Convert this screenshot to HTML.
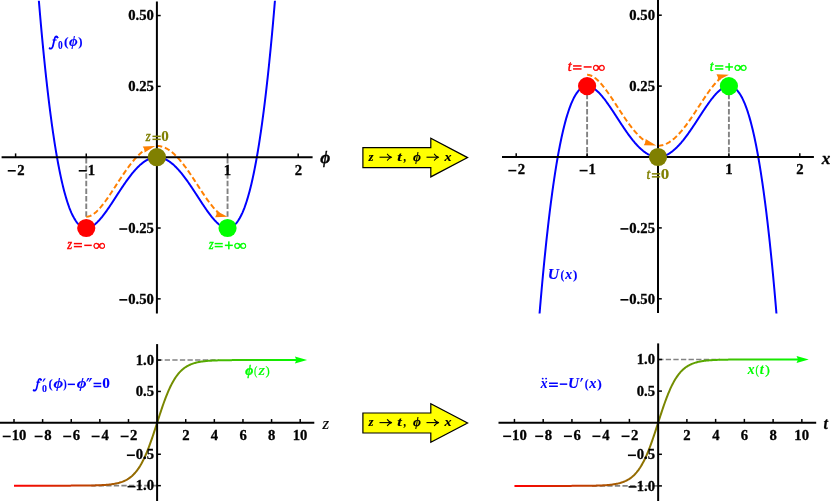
<!DOCTYPE html>
<html><head><meta charset="utf-8"><title>plot</title>
<style>html,body{margin:0;padding:0;background:#fff;}body{width:831px;height:503px;overflow:hidden;}svg{display:block;}text{font-family:"Liberation Serif",serif;font-weight:bold;}.tk{font-size:14px;fill:#000;stroke:#000;stroke-width:0.3px;}</style></head><body>
<svg width="831" height="503" viewBox="0 0 831 503">
<rect width="831" height="503" fill="#fff"/>
<g opacity="0.999">
<defs>
<linearGradient id="g1" gradientUnits="userSpaceOnUse" x1="14.00" y1="0" x2="300.20" y2="0"><stop offset="0" stop-color="#ff0000"/><stop offset="0.5" stop-color="#808000"/><stop offset="1" stop-color="#00ff00"/></linearGradient>
<linearGradient id="g2" gradientUnits="userSpaceOnUse" x1="514.45" y1="0" x2="801.85" y2="0"><stop offset="0" stop-color="#ff0000"/><stop offset="0.5" stop-color="#808000"/><stop offset="1" stop-color="#00ff00"/></linearGradient>
<clipPath id="cTL"><rect x="0" y="0.8" width="420" height="320"/></clipPath>
<clipPath id="cTR"><rect x="420" y="0" width="420" height="313.5"/></clipPath>
</defs>
<line x1="86.25" y1="216.72" x2="86.25" y2="157.20" stroke="#828282" stroke-width="1.9" stroke-dasharray="5.5,2.1"/>
<line x1="227.55" y1="216.72" x2="227.55" y2="157.20" stroke="#828282" stroke-width="1.9" stroke-dasharray="5.5,2.1"/>
<path d="M86.25,216.72 L86.94,216.70 L87.63,216.62 L88.32,216.49 L89.01,216.31 L89.69,216.08 L90.38,215.81 L91.07,215.49 L91.76,215.13 L92.45,214.73 L93.14,214.29 L93.83,213.81 L94.52,213.29 L95.20,212.73 L95.89,212.14 L96.58,211.52 L97.27,210.86 L97.96,210.18 L98.65,209.46 L99.34,208.72 L100.03,207.95 L100.72,207.16 L101.40,206.34 L102.09,205.49 L102.78,204.63 L103.47,203.75 L104.16,202.84 L104.85,201.92 L105.54,200.98 L106.23,200.03 L106.92,199.06 L107.60,198.08 L108.29,197.08 L108.98,196.07 L109.67,195.06 L110.36,194.03 L111.05,193.00 L111.74,191.96 L112.43,190.91 L113.11,189.86 L113.80,188.80 L114.49,187.74 L115.18,186.68 L115.87,185.62 L116.56,184.55 L117.25,183.49 L117.94,182.43 L118.63,181.37 L119.31,180.32 L120.00,179.27 L120.69,178.22 L121.38,177.18 L122.07,176.14 L122.76,175.12 L123.45,174.10 L124.14,173.09 L124.82,172.09 L125.51,171.10 L126.20,170.12 L126.89,169.15 L127.58,168.19 L128.27,167.25 L128.96,166.32 L129.65,165.41 L130.34,164.51 L131.02,163.63 L131.71,162.76 L132.40,161.91 L133.09,161.07 L133.78,160.26 L134.47,159.46 L135.16,158.68 L135.85,157.92 L136.54,157.18 L137.22,156.46 L137.91,155.76 L138.60,155.08 L139.29,154.43 L139.98,153.79 L140.67,153.18 L141.36,152.59 L142.05,152.02 L142.73,151.48 L143.42,150.96 L144.11,150.46 L144.80,149.99 L145.49,149.55 L146.18,149.12" fill="none" stroke="#ff8000" stroke-width="2" stroke-dasharray="5.4,2.8"/>
<polygon points="155.13,145.99 142.71,146.39 144.35,149.29 144.61,152.60" fill="#ff8000"/>
<path d="M156.90,145.90 L157.61,145.91 L158.31,145.96 L159.02,146.03 L159.73,146.13 L160.43,146.25 L161.14,146.41 L161.85,146.59 L162.55,146.80 L163.26,147.04 L163.97,147.31 L164.67,147.60 L165.38,147.93 L166.08,148.27 L166.79,148.65 L167.50,149.05 L168.20,149.48 L168.91,149.93 L169.62,150.42 L170.32,150.92 L171.03,151.45 L171.74,152.01 L172.44,152.59 L173.15,153.20 L173.86,153.82 L174.56,154.48 L175.27,155.15 L175.98,155.85 L176.68,156.57 L177.39,157.31 L178.09,158.07 L178.80,158.86 L179.51,159.66 L180.21,160.49 L180.92,161.33 L181.63,162.19 L182.33,163.07 L183.04,163.96 L183.75,164.88 L184.45,165.81 L185.16,166.75 L185.87,167.71 L186.57,168.68 L187.28,169.67 L187.99,170.67 L188.69,171.68 L189.40,172.70 L190.11,173.73 L190.81,174.78 L191.52,175.83 L192.23,176.89 L192.93,177.95 L193.64,179.02 L194.34,180.10 L195.05,181.18 L195.76,182.27 L196.46,183.36 L197.17,184.45 L197.88,185.54 L198.58,186.63 L199.29,187.72 L200.00,188.80 L200.70,189.88 L201.41,190.96 L202.12,192.04 L202.82,193.10 L203.53,194.16 L204.24,195.21 L204.94,196.26 L205.65,197.29 L206.36,198.30 L207.06,199.31 L207.77,200.30 L208.47,201.27 L209.18,202.23 L209.89,203.17 L210.59,204.09 L211.30,204.99 L212.01,205.86 L212.71,206.72 L213.42,207.55 L214.13,208.35 L214.83,209.12 L215.54,209.87 L216.25,210.59 L216.95,211.27 L217.66,211.92 L218.37,212.54 L219.07,213.12" fill="none" stroke="#ff8000" stroke-width="2" stroke-dasharray="5.4,2.8"/>
<polygon points="227.55,216.72 216.54,210.95 216.54,214.28 215.13,217.30" fill="#ff8000"/>
<path d="M34.25,-59.17 L34.82,-51.32 L35.38,-43.61 L35.95,-36.05 L36.51,-28.63 L37.08,-21.35 L37.64,-14.20 L38.21,-7.19 L38.77,-0.32 L39.34,6.41 L39.90,13.02 L40.47,19.49 L41.03,25.84 L41.60,32.05 L42.16,38.14 L42.73,44.11 L43.29,49.95 L43.86,55.67 L44.43,61.26 L44.99,66.74 L45.56,72.10 L46.12,77.34 L46.69,82.46 L47.25,87.48 L47.82,92.38 L48.38,97.16 L48.95,101.84 L49.51,106.41 L50.08,110.87 L50.64,115.22 L51.21,119.47 L51.77,123.62 L52.34,127.66 L52.90,131.60 L53.47,135.45 L54.03,139.19 L54.60,142.84 L55.16,146.39 L55.73,149.85 L56.29,153.21 L56.86,156.48 L57.42,159.66 L57.99,162.75 L58.56,165.75 L59.12,168.67 L59.69,171.50 L60.25,174.24 L60.82,176.90 L61.38,179.48 L61.95,181.98 L62.51,184.39 L63.08,186.73 L63.64,188.99 L64.21,191.17 L64.77,193.28 L65.34,195.31 L65.90,197.27 L66.47,199.16 L67.03,200.98 L67.60,202.72 L68.16,204.40 L68.73,206.01 L69.29,207.56 L69.86,209.03 L70.42,210.45 L70.99,211.80 L71.55,213.09 L72.12,214.31 L72.69,215.48 L73.25,216.59 L73.82,217.64 L74.38,218.63 L74.95,219.57 L75.51,220.45 L76.08,221.27 L76.64,222.05 L77.21,222.77 L77.77,223.44 L78.34,224.06 L78.90,224.63 L79.47,225.16 L80.03,225.63 L80.60,226.06 L81.16,226.45 L81.73,226.79 L82.29,227.09 L82.86,227.34 L83.42,227.55 L83.99,227.73 L84.55,227.86 L85.12,227.95 L85.68,228.01 L86.25,228.02 L86.82,228.01 L87.38,227.95 L87.95,227.87 L88.51,227.74 L89.08,227.59 L89.64,227.40 L90.21,227.19 L90.77,226.94 L91.34,226.66 L91.90,226.35 L92.47,226.02 L93.03,225.66 L93.60,225.27 L94.16,224.86 L94.73,224.42 L95.29,223.96 L95.86,223.47 L96.42,222.97 L96.99,222.44 L97.55,221.89 L98.12,221.32 L98.68,220.73 L99.25,220.12 L99.81,219.49 L100.38,218.85 L100.95,218.19 L101.51,217.51 L102.08,216.82 L102.64,216.11 L103.21,215.39 L103.77,214.65 L104.34,213.91 L104.90,213.15 L105.47,212.38 L106.03,211.60 L106.60,210.81 L107.16,210.01 L107.73,209.20 L108.29,208.38 L108.86,207.56 L109.42,206.72 L109.99,205.89 L110.55,205.04 L111.12,204.19 L111.68,203.34 L112.25,202.48 L112.81,201.62 L113.38,200.75 L113.94,199.88 L114.51,199.02 L115.08,198.14 L115.64,197.27 L116.21,196.40 L116.77,195.53 L117.34,194.66 L117.90,193.79 L118.47,192.92 L119.03,192.05 L119.60,191.19 L120.16,190.32 L120.73,189.47 L121.29,188.61 L121.86,187.76 L122.42,186.92 L122.99,186.08 L123.55,185.24 L124.12,184.41 L124.68,183.59 L125.25,182.78 L125.81,181.97 L126.38,181.17 L126.94,180.38 L127.51,179.59 L128.07,178.82 L128.64,178.05 L129.21,177.29 L129.77,176.55 L130.34,175.81 L130.90,175.08 L131.47,174.37 L132.03,173.66 L132.60,172.97 L133.16,172.29 L133.73,171.62 L134.29,170.96 L134.86,170.32 L135.42,169.69 L135.99,169.07 L136.55,168.46 L137.12,167.87 L137.68,167.29 L138.25,166.73 L138.81,166.18 L139.38,165.64 L139.94,165.12 L140.51,164.62 L141.07,164.13 L141.64,163.65 L142.20,163.20 L142.77,162.75 L143.34,162.33 L143.90,161.91 L144.47,161.52 L145.03,161.14 L145.60,160.78 L146.16,160.43 L146.73,160.11 L147.29,159.80 L147.86,159.50 L148.42,159.23 L148.99,158.97 L149.55,158.72 L150.12,158.50 L150.68,158.29 L151.25,158.10 L151.81,157.93 L152.38,157.78 L152.94,157.64 L153.51,157.53 L154.07,157.43 L154.64,157.34 L155.20,157.28 L155.77,157.24 L156.33,157.21 L156.90,157.20 L157.47,157.21 L158.03,157.24 L158.60,157.28 L159.16,157.34 L159.73,157.43 L160.29,157.53 L160.86,157.64 L161.42,157.78 L161.99,157.93 L162.55,158.10 L163.12,158.29 L163.68,158.50 L164.25,158.72 L164.81,158.97 L165.38,159.23 L165.94,159.50 L166.51,159.80 L167.07,160.11 L167.64,160.43 L168.20,160.78 L168.77,161.14 L169.33,161.52 L169.90,161.91 L170.46,162.33 L171.03,162.75 L171.60,163.20 L172.16,163.65 L172.73,164.13 L173.29,164.62 L173.86,165.12 L174.42,165.64 L174.99,166.18 L175.55,166.73 L176.12,167.29 L176.68,167.87 L177.25,168.46 L177.81,169.07 L178.38,169.69 L178.94,170.32 L179.51,170.96 L180.07,171.62 L180.64,172.29 L181.20,172.97 L181.77,173.66 L182.33,174.37 L182.90,175.08 L183.46,175.81 L184.03,176.55 L184.59,177.29 L185.16,178.05 L185.73,178.82 L186.29,179.59 L186.86,180.38 L187.42,181.17 L187.99,181.97 L188.55,182.78 L189.12,183.59 L189.68,184.41 L190.25,185.24 L190.81,186.08 L191.38,186.92 L191.94,187.76 L192.51,188.61 L193.07,189.47 L193.64,190.32 L194.20,191.19 L194.77,192.05 L195.33,192.92 L195.90,193.79 L196.46,194.66 L197.03,195.53 L197.59,196.40 L198.16,197.27 L198.72,198.14 L199.29,199.02 L199.86,199.88 L200.42,200.75 L200.99,201.62 L201.55,202.48 L202.12,203.34 L202.68,204.19 L203.25,205.04 L203.81,205.89 L204.38,206.72 L204.94,207.56 L205.51,208.38 L206.07,209.20 L206.64,210.01 L207.20,210.81 L207.77,211.60 L208.33,212.38 L208.90,213.15 L209.46,213.91 L210.03,214.65 L210.59,215.39 L211.16,216.11 L211.72,216.82 L212.29,217.51 L212.85,218.19 L213.42,218.85 L213.99,219.49 L214.55,220.12 L215.12,220.73 L215.68,221.32 L216.25,221.89 L216.81,222.44 L217.38,222.97 L217.94,223.47 L218.51,223.96 L219.07,224.42 L219.64,224.86 L220.20,225.27 L220.77,225.66 L221.33,226.02 L221.90,226.35 L222.46,226.66 L223.03,226.94 L223.59,227.19 L224.16,227.40 L224.72,227.59 L225.29,227.74 L225.85,227.87 L226.42,227.95 L226.98,228.01 L227.55,228.02 L228.12,228.01 L228.68,227.95 L229.25,227.86 L229.81,227.73 L230.38,227.55 L230.94,227.34 L231.51,227.09 L232.07,226.79 L232.64,226.45 L233.20,226.06 L233.77,225.63 L234.33,225.16 L234.90,224.63 L235.46,224.06 L236.03,223.44 L236.59,222.77 L237.16,222.05 L237.72,221.27 L238.29,220.45 L238.85,219.57 L239.42,218.63 L239.98,217.64 L240.55,216.59 L241.11,215.48 L241.68,214.31 L242.25,213.09 L242.81,211.80 L243.38,210.45 L243.94,209.03 L244.51,207.56 L245.07,206.01 L245.64,204.40 L246.20,202.72 L246.77,200.98 L247.33,199.16 L247.90,197.27 L248.46,195.31 L249.03,193.28 L249.59,191.17 L250.16,188.99 L250.72,186.73 L251.29,184.39 L251.85,181.98 L252.42,179.48 L252.98,176.90 L253.55,174.24 L254.11,171.50 L254.68,168.67 L255.24,165.75 L255.81,162.75 L256.38,159.66 L256.94,156.48 L257.51,153.21 L258.07,149.85 L258.64,146.39 L259.20,142.84 L259.77,139.19 L260.33,135.45 L260.90,131.60 L261.46,127.66 L262.03,123.62 L262.59,119.47 L263.16,115.22 L263.72,110.87 L264.29,106.41 L264.85,101.84 L265.42,97.16 L265.98,92.38 L266.55,87.48 L267.11,82.46 L267.68,77.34 L268.24,72.10 L268.81,66.74 L269.37,61.26 L269.94,55.67 L270.51,49.95 L271.07,44.11 L271.64,38.14 L272.20,32.05 L272.77,25.84 L273.33,19.49 L273.90,13.02 L274.46,6.41 L275.03,-0.32 L275.59,-7.19 L276.16,-14.20 L276.72,-21.35 L277.29,-28.63 L277.85,-36.05 L278.42,-43.61 L278.98,-51.32 L279.55,-59.17" fill="none" stroke="#0000ff" stroke-width="2" stroke-linejoin="round" clip-path="url(#cTL)"/>
<line x1="1.6" y1="157.2" x2="312.6" y2="157.2" stroke="#000" stroke-width="2"/>
<line x1="156.9" y1="1.4" x2="156.9" y2="313.5" stroke="#000" stroke-width="2"/>
<line x1="15.60" y1="157.2" x2="15.60" y2="153.39999999999998" stroke="#000" stroke-width="1.5"/>
<rect x="7.75" y="170.00" width="8.0" height="1.6" fill="#000"/>
<text class="tk" transform="translate(17.23,174.60) scale(1.05,1)">2</text>
<line x1="86.25" y1="157.2" x2="86.25" y2="153.39999999999998" stroke="#000" stroke-width="1.5"/>
<rect x="78.74" y="170.00" width="8.0" height="1.6" fill="#000"/>
<text class="tk" transform="translate(87.67,174.60) scale(1.05,1)">1</text>
<line x1="227.55" y1="157.2" x2="227.55" y2="153.39999999999998" stroke="#000" stroke-width="1.5"/>
<text class="tk" transform="translate(223.82,174.60) scale(1.05,1)">1</text>
<line x1="298.20" y1="157.2" x2="298.20" y2="153.39999999999998" stroke="#000" stroke-width="1.5"/>
<text class="tk" transform="translate(294.68,174.60) scale(1.05,1)">2</text>
<line x1="156.9" y1="298.85" x2="160.70000000000002" y2="298.85" stroke="#000" stroke-width="1.5"/>
<text class="tk" transform="translate(128.18,303.65) scale(1.05,1)">0.50</text>
<rect x="119.33" y="299.05" width="8.0" height="1.6" fill="#000"/>
<line x1="156.9" y1="228.02" x2="160.70000000000002" y2="228.02" stroke="#000" stroke-width="1.5"/>
<text class="tk" transform="translate(128.18,232.82) scale(1.05,1)">0.25</text>
<rect x="119.33" y="228.22" width="8.0" height="1.6" fill="#000"/>
<line x1="156.9" y1="86.37" x2="160.70000000000002" y2="86.37" stroke="#000" stroke-width="1.5"/>
<text class="tk" transform="translate(128.18,91.17) scale(1.05,1)">0.25</text>
<line x1="156.9" y1="15.55" x2="160.70000000000002" y2="15.55" stroke="#000" stroke-width="1.5"/>
<text class="tk" transform="translate(128.18,20.35) scale(1.05,1)">0.50</text>
<circle cx="86.25" cy="228.02" r="9.1" fill="#ff0000"/>
<circle cx="156.90" cy="157.20" r="9.1" fill="#808000"/>
<circle cx="227.55" cy="228.02" r="9.1" fill="#00ff00"/>
<line x1="587.10" y1="86.10" x2="587.10" y2="157.00" stroke="#828282" stroke-width="1.9" stroke-dasharray="5.5,2.1"/>
<line x1="728.90" y1="86.10" x2="728.90" y2="157.00" stroke="#828282" stroke-width="1.9" stroke-dasharray="5.5,2.1"/>
<path d="M587.10,74.80 L587.79,74.83 L588.48,74.91 L589.17,75.04 L589.87,75.21 L590.56,75.44 L591.25,75.71 L591.94,76.03 L592.63,76.39 L593.32,76.80 L594.01,77.24 L594.70,77.72 L595.40,78.24 L596.09,78.80 L596.78,79.39 L597.47,80.01 L598.16,80.67 L598.85,81.35 L599.54,82.07 L600.23,82.81 L600.93,83.58 L601.62,84.38 L602.31,85.20 L603.00,86.04 L603.69,86.91 L604.38,87.79 L605.07,88.70 L605.76,89.62 L606.46,90.56 L607.15,91.52 L607.84,92.49 L608.53,93.47 L609.22,94.47 L609.91,95.47 L610.60,96.49 L611.29,97.52 L611.99,98.55 L612.68,99.59 L613.37,100.64 L614.06,101.70 L614.75,102.75 L615.44,103.81 L616.13,104.88 L616.82,105.94 L617.52,107.00 L618.21,108.07 L618.90,109.13 L619.59,110.19 L620.28,111.25 L620.97,112.30 L621.66,113.35 L622.36,114.39 L623.05,115.42 L623.74,116.45 L624.43,117.47 L625.12,118.48 L625.81,119.48 L626.50,120.48 L627.19,121.46 L627.89,122.43 L628.58,123.38 L629.27,124.32 L629.96,125.25 L630.65,126.17 L631.34,127.07 L632.03,127.95 L632.72,128.82 L633.42,129.68 L634.11,130.51 L634.80,131.33 L635.49,132.13 L636.18,132.91 L636.87,133.67 L637.56,134.41 L638.25,135.13 L638.95,135.83 L639.64,136.51 L640.33,137.16 L641.02,137.80 L641.71,138.41 L642.40,139.00 L643.09,139.57 L643.78,140.11 L644.48,140.63 L645.17,141.13 L645.86,141.60 L646.55,142.05 L647.24,142.47" fill="none" stroke="#ff8000" stroke-width="2" stroke-dasharray="5.4,2.8"/>
<polygon points="656.23,145.61 645.70,138.99 645.44,142.31 643.80,145.21" fill="#ff8000"/>
<path d="M658.00,145.70 L658.71,145.69 L659.42,145.64 L660.13,145.57 L660.84,145.47 L661.54,145.35 L662.25,145.19 L662.96,145.01 L663.67,144.80 L664.38,144.56 L665.09,144.29 L665.80,143.99 L666.51,143.67 L667.22,143.32 L667.93,142.95 L668.63,142.55 L669.34,142.12 L670.05,141.66 L670.76,141.18 L671.47,140.67 L672.18,140.14 L672.89,139.58 L673.60,139.00 L674.31,138.40 L675.02,137.77 L675.73,137.11 L676.43,136.44 L677.14,135.74 L677.85,135.02 L678.56,134.28 L679.27,133.51 L679.98,132.73 L680.69,131.92 L681.40,131.10 L682.11,130.26 L682.82,129.39 L683.52,128.51 L684.23,127.62 L684.94,126.70 L685.65,125.77 L686.36,124.83 L687.07,123.87 L687.78,122.89 L688.49,121.91 L689.20,120.90 L689.90,119.89 L690.61,118.87 L691.32,117.84 L692.03,116.79 L692.74,115.74 L693.45,114.68 L694.16,113.61 L694.87,112.54 L695.58,111.46 L696.29,110.38 L697.00,109.29 L697.70,108.20 L698.41,107.11 L699.12,106.02 L699.83,104.93 L700.54,103.84 L701.25,102.75 L701.96,101.67 L702.67,100.59 L703.38,99.51 L704.09,98.45 L704.79,97.39 L705.50,96.33 L706.21,95.29 L706.92,94.26 L707.63,93.24 L708.34,92.24 L709.05,91.24 L709.76,90.27 L710.47,89.31 L711.17,88.37 L711.88,87.45 L712.59,86.55 L713.30,85.67 L714.01,84.82 L714.72,83.99 L715.43,83.19 L716.14,82.41 L716.85,81.66 L717.56,80.94 L718.26,80.26 L718.97,79.61 L719.68,78.99 L720.39,78.41" fill="none" stroke="#ff8000" stroke-width="2" stroke-dasharray="5.4,2.8"/>
<polygon points="728.90,74.80 716.48,74.22 717.89,77.24 717.89,80.57" fill="#ff8000"/>
<path d="M535.48,365.74 L536.05,358.02 L536.62,350.45 L537.19,343.02 L537.75,335.73 L538.32,328.58 L538.89,321.57 L539.46,314.69 L540.02,307.95 L540.59,301.33 L541.16,294.85 L541.72,288.50 L542.29,282.28 L542.86,276.18 L543.43,270.21 L543.99,264.37 L544.56,258.64 L545.13,253.04 L545.69,247.56 L546.26,242.19 L546.83,236.95 L547.40,231.81 L547.96,226.80 L548.53,221.89 L549.10,217.10 L549.66,212.42 L550.23,207.85 L550.80,203.38 L551.37,199.02 L551.93,194.77 L552.50,190.62 L553.07,186.57 L553.64,182.62 L554.20,178.78 L554.77,175.03 L555.34,171.38 L555.90,167.82 L556.47,164.36 L557.04,160.99 L557.61,157.72 L558.17,154.54 L558.74,151.44 L559.31,148.44 L559.87,145.52 L560.44,142.69 L561.01,139.94 L561.58,137.28 L562.14,134.70 L562.71,132.20 L563.28,129.78 L563.84,127.44 L564.41,125.18 L564.98,122.99 L565.55,120.88 L566.11,118.85 L566.68,116.89 L567.25,115.00 L567.82,113.18 L568.38,111.43 L568.95,109.75 L569.52,108.14 L570.08,106.59 L570.65,105.11 L571.22,103.70 L571.79,102.34 L572.35,101.05 L572.92,99.83 L573.49,98.66 L574.05,97.55 L574.62,96.50 L575.19,95.51 L575.76,94.57 L576.32,93.69 L576.89,92.86 L577.46,92.08 L578.02,91.36 L578.59,90.69 L579.16,90.07 L579.73,89.49 L580.29,88.97 L580.86,88.49 L581.43,88.06 L582.00,87.68 L582.56,87.34 L583.13,87.04 L583.70,86.79 L584.26,86.57 L584.83,86.40 L585.40,86.27 L585.97,86.17 L586.53,86.12 L587.10,86.10 L587.67,86.12 L588.23,86.17 L588.80,86.26 L589.37,86.38 L589.94,86.54 L590.50,86.72 L591.07,86.94 L591.64,87.19 L592.20,87.47 L592.77,87.77 L593.34,88.11 L593.91,88.47 L594.47,88.86 L595.04,89.27 L595.61,89.71 L596.18,90.17 L596.74,90.66 L597.31,91.16 L597.88,91.69 L598.44,92.24 L599.01,92.82 L599.58,93.41 L600.15,94.02 L600.71,94.64 L601.28,95.29 L601.85,95.95 L602.41,96.63 L602.98,97.32 L603.55,98.03 L604.12,98.75 L604.68,99.48 L605.25,100.23 L605.82,100.99 L606.38,101.76 L606.95,102.54 L607.52,103.34 L608.09,104.14 L608.65,104.95 L609.22,105.77 L609.79,106.59 L610.36,107.42 L610.92,108.26 L611.49,109.11 L612.06,109.96 L612.62,110.81 L613.19,111.67 L613.76,112.54 L614.33,113.40 L614.89,114.27 L615.46,115.14 L616.03,116.01 L616.59,116.89 L617.16,117.76 L617.73,118.63 L618.30,119.50 L618.86,120.38 L619.43,121.25 L620.00,122.11 L620.56,122.98 L621.13,123.84 L621.70,124.70 L622.27,125.56 L622.83,126.41 L623.40,127.25 L623.97,128.09 L624.54,128.93 L625.10,129.76 L625.67,130.58 L626.24,131.40 L626.80,132.20 L627.37,133.01 L627.94,133.80 L628.51,134.58 L629.07,135.36 L629.64,136.13 L630.21,136.88 L630.77,137.63 L631.34,138.37 L631.91,139.10 L632.48,139.81 L633.04,140.52 L633.61,141.21 L634.18,141.90 L634.74,142.57 L635.31,143.22 L635.88,143.87 L636.45,144.50 L637.01,145.12 L637.58,145.73 L638.15,146.32 L638.72,146.90 L639.28,147.46 L639.85,148.01 L640.42,148.55 L640.98,149.07 L641.55,149.57 L642.12,150.06 L642.69,150.54 L643.25,151.00 L643.82,151.44 L644.39,151.87 L644.95,152.28 L645.52,152.68 L646.09,153.05 L646.66,153.42 L647.22,153.76 L647.79,154.09 L648.36,154.40 L648.92,154.70 L649.49,154.97 L650.06,155.23 L650.63,155.47 L651.19,155.70 L651.76,155.91 L652.33,156.10 L652.90,156.27 L653.46,156.42 L654.03,156.56 L654.60,156.67 L655.16,156.77 L655.73,156.85 L656.30,156.92 L656.87,156.96 L657.43,156.99 L658.00,157.00 L658.57,156.99 L659.13,156.96 L659.70,156.92 L660.27,156.85 L660.84,156.77 L661.40,156.67 L661.97,156.56 L662.54,156.42 L663.10,156.27 L663.67,156.10 L664.24,155.91 L664.81,155.70 L665.37,155.47 L665.94,155.23 L666.51,154.97 L667.08,154.70 L667.64,154.40 L668.21,154.09 L668.78,153.76 L669.34,153.42 L669.91,153.05 L670.48,152.68 L671.05,152.28 L671.61,151.87 L672.18,151.44 L672.75,151.00 L673.31,150.54 L673.88,150.06 L674.45,149.57 L675.02,149.07 L675.58,148.55 L676.15,148.01 L676.72,147.46 L677.28,146.90 L677.85,146.32 L678.42,145.73 L678.99,145.12 L679.55,144.50 L680.12,143.87 L680.69,143.22 L681.26,142.57 L681.82,141.90 L682.39,141.21 L682.96,140.52 L683.52,139.81 L684.09,139.10 L684.66,138.37 L685.23,137.63 L685.79,136.88 L686.36,136.13 L686.93,135.36 L687.49,134.58 L688.06,133.80 L688.63,133.01 L689.20,132.20 L689.76,131.40 L690.33,130.58 L690.90,129.76 L691.46,128.93 L692.03,128.09 L692.60,127.25 L693.17,126.41 L693.73,125.56 L694.30,124.70 L694.87,123.84 L695.44,122.98 L696.00,122.11 L696.57,121.25 L697.14,120.38 L697.70,119.50 L698.27,118.63 L698.84,117.76 L699.41,116.89 L699.97,116.01 L700.54,115.14 L701.11,114.27 L701.67,113.40 L702.24,112.54 L702.81,111.67 L703.38,110.81 L703.94,109.96 L704.51,109.11 L705.08,108.26 L705.64,107.42 L706.21,106.59 L706.78,105.77 L707.35,104.95 L707.91,104.14 L708.48,103.34 L709.05,102.54 L709.62,101.76 L710.18,100.99 L710.75,100.23 L711.32,99.48 L711.88,98.75 L712.45,98.03 L713.02,97.32 L713.59,96.63 L714.15,95.95 L714.72,95.29 L715.29,94.64 L715.85,94.02 L716.42,93.41 L716.99,92.82 L717.56,92.24 L718.12,91.69 L718.69,91.16 L719.26,90.66 L719.82,90.17 L720.39,89.71 L720.96,89.27 L721.53,88.86 L722.09,88.47 L722.66,88.11 L723.23,87.77 L723.80,87.47 L724.36,87.19 L724.93,86.94 L725.50,86.72 L726.06,86.54 L726.63,86.38 L727.20,86.26 L727.77,86.17 L728.33,86.12 L728.90,86.10 L729.47,86.12 L730.03,86.17 L730.60,86.27 L731.17,86.40 L731.74,86.57 L732.30,86.79 L732.87,87.04 L733.44,87.34 L734.00,87.68 L734.57,88.06 L735.14,88.49 L735.71,88.97 L736.27,89.49 L736.84,90.07 L737.41,90.69 L737.98,91.36 L738.54,92.08 L739.11,92.86 L739.68,93.69 L740.24,94.57 L740.81,95.51 L741.38,96.50 L741.95,97.55 L742.51,98.66 L743.08,99.83 L743.65,101.05 L744.21,102.34 L744.78,103.70 L745.35,105.11 L745.92,106.59 L746.48,108.14 L747.05,109.75 L747.62,111.43 L748.18,113.18 L748.75,115.00 L749.32,116.89 L749.89,118.85 L750.45,120.88 L751.02,122.99 L751.59,125.18 L752.16,127.44 L752.72,129.78 L753.29,132.20 L753.86,134.70 L754.42,137.28 L754.99,139.94 L755.56,142.69 L756.13,145.52 L756.69,148.44 L757.26,151.44 L757.83,154.54 L758.39,157.72 L758.96,160.99 L759.53,164.36 L760.10,167.82 L760.66,171.38 L761.23,175.03 L761.80,178.78 L762.36,182.62 L762.93,186.57 L763.50,190.62 L764.07,194.77 L764.63,199.02 L765.20,203.38 L765.77,207.85 L766.34,212.42 L766.90,217.10 L767.47,221.89 L768.04,226.80 L768.60,231.81 L769.17,236.95 L769.74,242.19 L770.31,247.56 L770.87,253.04 L771.44,258.64 L772.01,264.37 L772.57,270.21 L773.14,276.18 L773.71,282.28 L774.28,288.50 L774.84,294.85 L775.41,301.33 L775.98,307.95 L776.54,314.69 L777.11,321.57 L777.68,328.58 L778.25,335.73 L778.81,343.02 L779.38,350.45 L779.95,358.02 L780.52,365.74" fill="none" stroke="#0000ff" stroke-width="2" stroke-linejoin="round" clip-path="url(#cTR)"/>
<line x1="502" y1="157.0" x2="813.9" y2="157.0" stroke="#000" stroke-width="2"/>
<line x1="658.0" y1="0" x2="658.0" y2="313" stroke="#000" stroke-width="2"/>
<line x1="516.20" y1="157.0" x2="516.20" y2="153.2" stroke="#000" stroke-width="1.5"/>
<rect x="508.35" y="169.80" width="8.0" height="1.6" fill="#000"/>
<text class="tk" transform="translate(517.83,174.40) scale(1.05,1)">2</text>
<line x1="587.10" y1="157.0" x2="587.10" y2="153.2" stroke="#000" stroke-width="1.5"/>
<rect x="579.59" y="169.80" width="8.0" height="1.6" fill="#000"/>
<text class="tk" transform="translate(588.52,174.40) scale(1.05,1)">1</text>
<line x1="728.90" y1="157.0" x2="728.90" y2="153.2" stroke="#000" stroke-width="1.5"/>
<text class="tk" transform="translate(725.17,174.40) scale(1.05,1)">1</text>
<line x1="799.80" y1="157.0" x2="799.80" y2="153.2" stroke="#000" stroke-width="1.5"/>
<text class="tk" transform="translate(796.28,174.40) scale(1.05,1)">2</text>
<line x1="658.0" y1="298.80" x2="661.8" y2="298.80" stroke="#000" stroke-width="1.5"/>
<text class="tk" transform="translate(629.27,303.60) scale(1.05,1)">0.50</text>
<rect x="620.43" y="299.00" width="8.0" height="1.6" fill="#000"/>
<line x1="658.0" y1="227.90" x2="661.8" y2="227.90" stroke="#000" stroke-width="1.5"/>
<text class="tk" transform="translate(629.27,232.70) scale(1.05,1)">0.25</text>
<rect x="620.43" y="228.10" width="8.0" height="1.6" fill="#000"/>
<line x1="658.0" y1="86.10" x2="661.8" y2="86.10" stroke="#000" stroke-width="1.5"/>
<text class="tk" transform="translate(629.27,90.90) scale(1.05,1)">0.25</text>
<line x1="658.0" y1="15.20" x2="661.8" y2="15.20" stroke="#000" stroke-width="1.5"/>
<text class="tk" transform="translate(629.27,20.00) scale(1.05,1)">0.50</text>
<circle cx="587.10" cy="86.10" r="9.1" fill="#ff0000"/>
<circle cx="658.00" cy="157.00" r="9.1" fill="#808000"/>
<circle cx="728.90" cy="86.10" r="9.1" fill="#00ff00"/>
<text transform="translate(320.28,162.90) skewX(0) scale(1.018,1.000)" font-size="17" fill="#000" stroke="#000" stroke-width="0.4" style="font-weight:bold;font-style:italic">ϕ</text>
<text transform="translate(821.86,163.70) skewX(0) scale(1.013,1.000)" font-size="17" fill="#000" stroke="#000" stroke-width="0.3" style="font-weight:bold;font-style:italic">x</text>
<text transform="translate(322.44,428.60) skewX(0) scale(0.974,1.000)" font-size="17.5" fill="#000" stroke="#000" stroke-width="0.15" style="font-weight:normal;font-style:italic">z</text>
<text transform="translate(823.47,428.60) skewX(0) scale(0.928,1.000)" font-size="17" fill="#000" stroke="#000" stroke-width="0.3" style="font-weight:bold;font-style:italic">t</text>
<g transform="translate(48.90,36.00) scale(1.045,1.023)" fill="none" stroke="#0000ff" stroke-linecap="round"><path d="M8.2,1.4 C7.9,0.1 6.4,0.0 5.7,1.8 C5.1,3.5 4.7,6.5 3.7,10.2 C3.1,12.3 1.7,12.9 0.7,12.1" stroke-width="1.65"/><path d="M3.5,3.9 L7.4,3.9" stroke-width="1.1" stroke-linecap="butt"/><circle cx="8.0" cy="1.5" r="0.55" fill="#0000ff" stroke-width="0.8"/><circle cx="0.9" cy="12.0" r="0.55" fill="#0000ff" stroke-width="0.8"/></g>
<text transform="translate(58.09,49.30) skewX(0) scale(0.821,1.000)" font-size="11.5" fill="#0000ff" stroke="#0000ff" stroke-width="0.12" style="font-weight:bold;font-style:normal">0</text>
<text transform="translate(64.05,45.60) skewX(0) scale(1.090,1.000)" font-size="12.5" fill="#0000ff" stroke="#0000ff" stroke-width="0.12" style="font-weight:bold;font-style:normal">(</text>
<text transform="translate(68.91,45.60) skewX(0) scale(1.030,1.000)" font-size="14.6" fill="#0000ff" stroke="#0000ff" stroke-width="0.12" style="font-weight:bold;font-style:italic">ϕ</text>
<text transform="translate(78.14,45.60) skewX(0) scale(1.028,1.000)" font-size="12.5" fill="#0000ff" stroke="#0000ff" stroke-width="0.12" style="font-weight:bold;font-style:normal">)</text>
<text transform="translate(145.79,141.00) skewX(0) scale(0.867,1.000)" font-size="14.6" fill="#808000" stroke="#808000" stroke-width="0.5" style="font-weight:normal;font-style:italic">z</text>
<rect x="152.45" y="135.60" width="8.30" height="1.5" fill="#808000"/><rect x="152.45" y="138.60" width="8.30" height="1.5" fill="#808000"/>
<text transform="translate(161.27,141.00) skewX(0) scale(1.034,1.000)" font-size="14.6" fill="#808000" stroke="#808000" stroke-width="0.12" style="font-weight:bold;font-style:normal">0</text>
<text transform="translate(67.29,249.10) skewX(0) scale(0.849,1.000)" font-size="14.6" fill="#ff0000" stroke="#ff0000" stroke-width="0.5" style="font-weight:normal;font-style:italic">z</text>
<rect x="73.85" y="242.85" width="8.10" height="1.5" fill="#ff0000"/><rect x="73.85" y="245.85" width="8.10" height="1.5" fill="#ff0000"/>
<rect x="84.25" y="244.60" width="7.50" height="1.5" fill="#ff0000"/>
<text transform="translate(93.18,249.60) skewX(0) scale(1.158,1.000)" font-size="14.6" fill="#ff0000" stroke="#ff0000" stroke-width="0.45" style="font-weight:bold;font-style:normal">∞</text>
<text transform="translate(209.08,249.10) skewX(0) scale(0.814,1.000)" font-size="14.6" fill="#00ff00" stroke="#00ff00" stroke-width="0.5" style="font-weight:normal;font-style:italic">z</text>
<rect x="214.65" y="242.85" width="8.10" height="1.5" fill="#00ff00"/><rect x="214.65" y="245.85" width="8.10" height="1.5" fill="#00ff00"/>
<rect x="224.85" y="244.60" width="8.00" height="1.5" fill="#00ff00"/>
<rect x="228.10" y="241.35" width="1.5" height="8.00" fill="#00ff00"/>
<text transform="translate(234.06,249.60) skewX(0) scale(1.199,1.000)" font-size="14.6" fill="#00ff00" stroke="#00ff00" stroke-width="0.45" style="font-weight:bold;font-style:normal">∞</text>
<text transform="translate(547.77,278.50) skewX(0) scale(1.072,1.000)" font-size="14.6" fill="#0000ff" stroke="#0000ff" stroke-width="0.12" style="font-weight:bold;font-style:italic">U</text>
<text transform="translate(560.55,278.50) skewX(0) scale(0.903,1.000)" font-size="12.5" fill="#0000ff" stroke="#0000ff" stroke-width="0.12" style="font-weight:bold;font-style:normal">(</text>
<text transform="translate(565.22,278.50) skewX(0) scale(0.941,1.000)" font-size="14.6" fill="#0000ff" stroke="#0000ff" stroke-width="0.12" style="font-weight:bold;font-style:italic">x</text>
<text transform="translate(573.02,278.50) skewX(0) scale(1.059,1.000)" font-size="12.5" fill="#0000ff" stroke="#0000ff" stroke-width="0.12" style="font-weight:bold;font-style:normal">)</text>
<text transform="translate(646.44,178.50) skewX(0) scale(0.944,1.000)" font-size="14.6" fill="#808000" stroke="#808000" stroke-width="0.45" style="font-weight:normal;font-style:italic">t</text>
<rect x="651.85" y="173.10" width="8.30" height="1.5" fill="#808000"/><rect x="651.85" y="176.10" width="8.30" height="1.5" fill="#808000"/>
<text transform="translate(660.80,178.50) skewX(0) scale(1.164,1.000)" font-size="14.6" fill="#808000" stroke="#808000" stroke-width="0.12" style="font-weight:bold;font-style:normal">0</text>
<text transform="translate(567.63,70.70) skewX(0) scale(0.971,1.000)" font-size="14.6" fill="#ff0000" stroke="#ff0000" stroke-width="0.45" style="font-weight:normal;font-style:italic">t</text>
<rect x="573.05" y="65.20" width="8.50" height="1.5" fill="#ff0000"/><rect x="573.05" y="68.20" width="8.50" height="1.5" fill="#ff0000"/>
<rect x="583.65" y="66.20" width="8.00" height="1.5" fill="#ff0000"/>
<text transform="translate(592.87,72.00) skewX(0) scale(1.179,1.000)" font-size="14.6" fill="#ff0000" stroke="#ff0000" stroke-width="0.45" style="font-weight:bold;font-style:normal">∞</text>
<text transform="translate(709.64,70.70) skewX(0) scale(0.944,1.000)" font-size="14.6" fill="#00ff00" stroke="#00ff00" stroke-width="0.45" style="font-weight:normal;font-style:italic">t</text>
<rect x="715.05" y="65.20" width="8.30" height="1.5" fill="#00ff00"/><rect x="715.05" y="68.20" width="8.30" height="1.5" fill="#00ff00"/>
<rect x="725.25" y="66.20" width="7.70" height="1.5" fill="#00ff00"/>
<rect x="728.35" y="63.10" width="1.5" height="7.70" fill="#00ff00"/>
<text transform="translate(734.36,72.00) skewX(0) scale(1.210,1.000)" font-size="14.6" fill="#00ff00" stroke="#00ff00" stroke-width="0.45" style="font-weight:bold;font-style:normal">∞</text>
<line x1="157.1" y1="360.05" x2="218.63" y2="360.05" stroke="#828282" stroke-width="1.6" stroke-dasharray="5.3,2.3"/>
<line x1="157.1" y1="485.65" x2="91.27" y2="485.65" stroke="#828282" stroke-width="1.6" stroke-dasharray="5.3,2.3"/>
<path d="M14.00,485.65 L14.72,485.65 L15.43,485.65 L16.15,485.65 L16.86,485.65 L17.58,485.65 L18.29,485.65 L19.01,485.65 L19.72,485.65 L20.44,485.65 L21.16,485.65 L21.87,485.65 L22.59,485.65 L23.30,485.65 L24.02,485.65 L24.73,485.65 L25.45,485.65 L26.16,485.65 L26.88,485.65 L27.59,485.65 L28.31,485.65 L29.03,485.65 L29.74,485.65 L30.46,485.65 L31.17,485.65 L31.89,485.65 L32.60,485.65 L33.32,485.65 L34.03,485.65 L34.75,485.65 L35.46,485.65 L36.18,485.65 L36.90,485.65 L37.61,485.65 L38.33,485.65 L39.04,485.65 L39.76,485.65 L40.47,485.65 L41.19,485.65 L41.90,485.65 L42.62,485.65 L43.34,485.65 L44.05,485.65 L44.77,485.65 L45.48,485.65 L46.20,485.65 L46.91,485.65 L47.63,485.65 L48.34,485.65 L49.06,485.65 L49.77,485.65 L50.49,485.65 L51.21,485.65 L51.92,485.65 L52.64,485.65 L53.35,485.65 L54.07,485.65 L54.78,485.64 L55.50,485.64 L56.21,485.64 L56.93,485.64 L57.65,485.64 L58.36,485.64 L59.08,485.64 L59.79,485.64 L60.51,485.64 L61.22,485.64 L61.94,485.64 L62.65,485.64 L63.37,485.64 L64.08,485.64 L64.80,485.64 L65.52,485.64 L66.23,485.63 L66.95,485.63 L67.66,485.63 L68.38,485.63 L69.09,485.63 L69.81,485.63 L70.52,485.63 L71.24,485.62 L71.96,485.62 L72.67,485.62 L73.39,485.62 L74.10,485.62 L74.82,485.61 L75.53,485.61 L76.25,485.61 L76.96,485.60 L77.68,485.60 L78.39,485.60 L79.11,485.59 L79.83,485.59 L80.54,485.59 L81.26,485.58 L81.97,485.58 L82.69,485.57 L83.40,485.56 L84.12,485.56 L84.83,485.55 L85.55,485.54 L86.27,485.54 L86.98,485.53 L87.70,485.52 L88.41,485.51 L89.13,485.50 L89.84,485.49 L90.56,485.48 L91.27,485.46 L91.99,485.45 L92.70,485.43 L93.42,485.42 L94.14,485.40 L94.85,485.38 L95.57,485.36 L96.28,485.34 L97.00,485.32 L97.71,485.30 L98.43,485.27 L99.14,485.24 L99.86,485.21 L100.58,485.18 L101.29,485.15 L102.01,485.11 L102.72,485.07 L103.44,485.03 L104.15,484.98 L104.87,484.93 L105.58,484.88 L106.30,484.83 L107.01,484.77 L107.73,484.70 L108.45,484.63 L109.16,484.56 L109.88,484.48 L110.59,484.40 L111.31,484.30 L112.02,484.21 L112.74,484.10 L113.45,483.99 L114.17,483.87 L114.89,483.74 L115.60,483.60 L116.32,483.46 L117.03,483.30 L117.75,483.13 L118.46,482.95 L119.18,482.76 L119.89,482.55 L120.61,482.33 L121.32,482.09 L122.04,481.84 L122.76,481.57 L123.47,481.28 L124.19,480.97 L124.90,480.64 L125.62,480.29 L126.33,479.92 L127.05,479.52 L127.76,479.09 L128.48,478.64 L129.20,478.16 L129.91,477.64 L130.63,477.10 L131.34,476.52 L132.06,475.90 L132.77,475.24 L133.49,474.55 L134.20,473.81 L134.92,473.03 L135.63,472.21 L136.35,471.33 L137.07,470.41 L137.78,469.44 L138.50,468.41 L139.21,467.33 L139.93,466.20 L140.64,465.01 L141.36,463.76 L142.07,462.45 L142.79,461.09 L143.51,459.66 L144.22,458.17 L144.94,456.62 L145.65,455.02 L146.37,453.35 L147.08,451.62 L147.80,449.84 L148.51,448.00 L149.23,446.11 L149.94,444.17 L150.66,442.18 L151.38,440.15 L152.09,438.08 L152.81,435.98 L153.52,433.84 L154.24,431.67 L154.95,429.49 L155.67,427.28 L156.38,425.07 L157.10,422.85 L157.82,420.63 L158.53,418.42 L159.25,416.21 L159.96,414.03 L160.68,411.86 L161.39,409.72 L162.11,407.62 L162.82,405.55 L163.54,403.52 L164.25,401.53 L164.97,399.59 L165.69,397.70 L166.40,395.86 L167.12,394.08 L167.83,392.35 L168.55,390.68 L169.26,389.08 L169.98,387.53 L170.69,386.04 L171.41,384.61 L172.13,383.25 L172.84,381.94 L173.56,380.69 L174.27,379.50 L174.99,378.37 L175.70,377.29 L176.42,376.26 L177.13,375.29 L177.85,374.37 L178.56,373.49 L179.28,372.67 L180.00,371.89 L180.71,371.15 L181.43,370.46 L182.14,369.80 L182.86,369.18 L183.57,368.60 L184.29,368.06 L185.00,367.54 L185.72,367.06 L186.44,366.61 L187.15,366.18 L187.87,365.78 L188.58,365.41 L189.30,365.06 L190.01,364.73 L190.73,364.42 L191.44,364.13 L192.16,363.86 L192.88,363.61 L193.59,363.37 L194.31,363.15 L195.02,362.94 L195.74,362.75 L196.45,362.57 L197.17,362.40 L197.88,362.24 L198.60,362.10 L199.31,361.96 L200.03,361.83 L200.75,361.71 L201.46,361.60 L202.18,361.49 L202.89,361.40 L203.61,361.30 L204.32,361.22 L205.04,361.14 L205.75,361.07 L206.47,361.00 L207.19,360.93 L207.90,360.87 L208.62,360.82 L209.33,360.77 L210.05,360.72 L210.76,360.67 L211.48,360.63 L212.19,360.59 L212.91,360.55 L213.62,360.52 L214.34,360.49 L215.06,360.46 L215.77,360.43 L216.49,360.40 L217.20,360.38 L217.92,360.36 L218.63,360.34 L219.35,360.32 L220.06,360.30 L220.78,360.28 L221.50,360.27 L222.21,360.25 L222.93,360.24 L223.64,360.22 L224.36,360.21 L225.07,360.20 L225.79,360.19 L226.50,360.18 L227.22,360.17 L227.93,360.16 L228.65,360.16 L229.37,360.15 L230.08,360.14 L230.80,360.14 L231.51,360.13 L232.23,360.12 L232.94,360.12 L233.66,360.11 L234.37,360.11 L235.09,360.11 L235.81,360.10 L236.52,360.10 L237.24,360.10 L237.95,360.09 L238.67,360.09 L239.38,360.09 L240.10,360.08 L240.81,360.08 L241.53,360.08 L242.24,360.08 L242.96,360.08 L243.68,360.07 L244.39,360.07 L245.11,360.07 L245.82,360.07 L246.54,360.07 L247.25,360.07 L247.97,360.07 L248.68,360.06 L249.40,360.06 L250.12,360.06 L250.83,360.06 L251.55,360.06 L252.26,360.06 L252.98,360.06 L253.69,360.06 L254.41,360.06 L255.12,360.06 L255.84,360.06 L256.55,360.06 L257.27,360.06 L257.99,360.06 L258.70,360.06 L259.42,360.06 L260.13,360.05 L260.85,360.05 L261.56,360.05 L262.28,360.05 L262.99,360.05 L263.71,360.05 L264.43,360.05 L265.14,360.05 L265.86,360.05 L266.57,360.05 L267.29,360.05 L268.00,360.05 L268.72,360.05 L269.43,360.05 L270.15,360.05 L270.86,360.05 L271.58,360.05 L272.30,360.05 L273.01,360.05 L273.73,360.05 L274.44,360.05 L275.16,360.05 L275.87,360.05 L276.59,360.05 L277.30,360.05 L278.02,360.05 L278.74,360.05 L279.45,360.05 L280.17,360.05 L280.88,360.05 L281.60,360.05 L282.31,360.05 L283.03,360.05 L283.74,360.05 L284.46,360.05 L285.17,360.05 L285.89,360.05 L286.61,360.05 L287.32,360.05 L288.04,360.05 L288.75,360.05 L289.47,360.05 L290.18,360.05 L290.90,360.05 L291.61,360.05 L292.33,360.05 L293.04,360.05 L293.76,360.05 L294.48,360.05 L295.19,360.05 L295.91,360.05 L296.62,360.05 L297.34,360.05 L298.05,360.05 L298.77,360.05 L299.48,360.05 L300.20,360.05" fill="none" stroke="url(#g1)" stroke-width="2"/>
<line x1="0" y1="422.85" x2="314.3" y2="422.85" stroke="#000" stroke-width="2"/>
<line x1="157.1" y1="344.1" x2="157.1" y2="501" stroke="#000" stroke-width="2"/>
<line x1="14.00" y1="422.85" x2="14.00" y2="419.05" stroke="#000" stroke-width="1.5"/>
<rect x="2.72" y="435.65" width="8.0" height="1.6" fill="#000"/>
<text class="tk" transform="translate(11.64,440.25) scale(1.05,1)">10</text>
<line x1="42.62" y1="422.85" x2="42.62" y2="419.05" stroke="#000" stroke-width="1.5"/>
<rect x="34.63" y="435.65" width="8.0" height="1.6" fill="#000"/>
<text class="tk" transform="translate(44.24,440.25) scale(1.05,1)">8</text>
<line x1="71.24" y1="422.85" x2="71.24" y2="419.05" stroke="#000" stroke-width="1.5"/>
<rect x="63.23" y="435.65" width="8.0" height="1.6" fill="#000"/>
<text class="tk" transform="translate(72.83,440.25) scale(1.05,1)">6</text>
<line x1="99.86" y1="422.85" x2="99.86" y2="419.05" stroke="#000" stroke-width="1.5"/>
<rect x="91.62" y="435.65" width="8.0" height="1.6" fill="#000"/>
<text class="tk" transform="translate(101.52,440.25) scale(1.05,1)">4</text>
<line x1="128.48" y1="422.85" x2="128.48" y2="419.05" stroke="#000" stroke-width="1.5"/>
<rect x="120.63" y="435.65" width="8.0" height="1.6" fill="#000"/>
<text class="tk" transform="translate(130.11,440.25) scale(1.05,1)">2</text>
<line x1="185.72" y1="422.85" x2="185.72" y2="419.05" stroke="#000" stroke-width="1.5"/>
<text class="tk" transform="translate(182.20,440.25) scale(1.05,1)">2</text>
<line x1="214.34" y1="422.85" x2="214.34" y2="419.05" stroke="#000" stroke-width="1.5"/>
<text class="tk" transform="translate(210.85,440.25) scale(1.05,1)">4</text>
<line x1="242.96" y1="422.85" x2="242.96" y2="419.05" stroke="#000" stroke-width="1.5"/>
<text class="tk" transform="translate(239.40,440.25) scale(1.05,1)">6</text>
<line x1="271.58" y1="422.85" x2="271.58" y2="419.05" stroke="#000" stroke-width="1.5"/>
<text class="tk" transform="translate(268.05,440.25) scale(1.05,1)">8</text>
<line x1="300.20" y1="422.85" x2="300.20" y2="419.05" stroke="#000" stroke-width="1.5"/>
<text class="tk" transform="translate(292.69,440.25) scale(1.05,1)">10</text>
<line x1="157.1" y1="485.65" x2="160.9" y2="485.65" stroke="#000" stroke-width="1.5"/>
<text class="tk" transform="translate(135.72,490.45) scale(1.05,1)">1.0</text>
<rect x="127.50" y="485.85" width="8.0" height="1.6" fill="#000"/>
<line x1="157.1" y1="454.25" x2="160.9" y2="454.25" stroke="#000" stroke-width="1.5"/>
<text class="tk" transform="translate(135.72,459.05) scale(1.05,1)">0.5</text>
<rect x="126.88" y="454.45" width="8.0" height="1.6" fill="#000"/>
<line x1="157.1" y1="391.45" x2="160.9" y2="391.45" stroke="#000" stroke-width="1.5"/>
<text class="tk" transform="translate(135.72,396.25) scale(1.05,1)">0.5</text>
<line x1="157.1" y1="360.05" x2="160.9" y2="360.05" stroke="#000" stroke-width="1.5"/>
<text class="tk" transform="translate(135.72,364.85) scale(1.05,1)">1.0</text>
<polygon points="307.10,360.05 294.90,356.55 296.36,360.05 294.90,363.55" fill="#00ff00"/>
<line x1="658.15" y1="359.50" x2="719.94" y2="359.50" stroke="#828282" stroke-width="1.6" stroke-dasharray="5.3,2.3"/>
<line x1="658.15" y1="485.90" x2="592.05" y2="485.90" stroke="#828282" stroke-width="1.6" stroke-dasharray="5.3,2.3"/>
<path d="M514.45,485.90 L515.17,485.90 L515.89,485.90 L516.61,485.90 L517.32,485.90 L518.04,485.90 L518.76,485.90 L519.48,485.90 L520.20,485.90 L520.92,485.90 L521.63,485.90 L522.35,485.90 L523.07,485.90 L523.79,485.90 L524.51,485.90 L525.23,485.90 L525.95,485.90 L526.66,485.90 L527.38,485.90 L528.10,485.90 L528.82,485.90 L529.54,485.90 L530.26,485.90 L530.98,485.90 L531.69,485.90 L532.41,485.90 L533.13,485.90 L533.85,485.90 L534.57,485.90 L535.29,485.90 L536.00,485.90 L536.72,485.90 L537.44,485.90 L538.16,485.90 L538.88,485.90 L539.60,485.90 L540.32,485.90 L541.03,485.90 L541.75,485.90 L542.47,485.90 L543.19,485.90 L543.91,485.90 L544.63,485.90 L545.35,485.90 L546.06,485.90 L546.78,485.90 L547.50,485.90 L548.22,485.90 L548.94,485.90 L549.66,485.90 L550.38,485.90 L551.09,485.90 L551.81,485.90 L552.53,485.90 L553.25,485.90 L553.97,485.90 L554.69,485.90 L555.40,485.89 L556.12,485.89 L556.84,485.89 L557.56,485.89 L558.28,485.89 L559.00,485.89 L559.72,485.89 L560.43,485.89 L561.15,485.89 L561.87,485.89 L562.59,485.89 L563.31,485.89 L564.03,485.89 L564.75,485.89 L565.46,485.89 L566.18,485.89 L566.90,485.88 L567.62,485.88 L568.34,485.88 L569.06,485.88 L569.77,485.88 L570.49,485.88 L571.21,485.88 L571.93,485.87 L572.65,485.87 L573.37,485.87 L574.09,485.87 L574.80,485.87 L575.52,485.86 L576.24,485.86 L576.96,485.86 L577.68,485.85 L578.40,485.85 L579.12,485.85 L579.83,485.84 L580.55,485.84 L581.27,485.83 L581.99,485.83 L582.71,485.82 L583.43,485.82 L584.14,485.81 L584.86,485.81 L585.58,485.80 L586.30,485.79 L587.02,485.78 L587.74,485.78 L588.46,485.77 L589.17,485.76 L589.89,485.75 L590.61,485.74 L591.33,485.72 L592.05,485.71 L592.77,485.70 L593.49,485.68 L594.20,485.67 L594.92,485.65 L595.64,485.63 L596.36,485.61 L597.08,485.59 L597.80,485.57 L598.51,485.54 L599.23,485.52 L599.95,485.49 L600.67,485.46 L601.39,485.43 L602.11,485.39 L602.83,485.36 L603.54,485.32 L604.26,485.27 L604.98,485.23 L605.70,485.18 L606.42,485.13 L607.14,485.07 L607.86,485.01 L608.57,484.95 L609.29,484.88 L610.01,484.80 L610.73,484.72 L611.45,484.64 L612.17,484.55 L612.88,484.45 L613.60,484.34 L614.32,484.23 L615.04,484.11 L615.76,483.98 L616.48,483.84 L617.20,483.69 L617.91,483.54 L618.63,483.37 L619.35,483.18 L620.07,482.99 L620.79,482.78 L621.51,482.56 L622.23,482.32 L622.94,482.07 L623.66,481.79 L624.38,481.50 L625.10,481.19 L625.82,480.86 L626.54,480.51 L627.25,480.13 L627.97,479.73 L628.69,479.30 L629.41,478.85 L630.13,478.36 L630.85,477.84 L631.57,477.29 L632.28,476.71 L633.00,476.09 L633.72,475.43 L634.44,474.73 L635.16,473.99 L635.88,473.20 L636.60,472.37 L637.31,471.49 L638.03,470.56 L638.75,469.59 L639.47,468.55 L640.19,467.47 L640.91,466.33 L641.62,465.13 L642.34,463.87 L643.06,462.56 L643.78,461.18 L644.50,459.74 L645.22,458.25 L645.94,456.69 L646.65,455.07 L647.37,453.39 L648.09,451.66 L648.81,449.86 L649.53,448.01 L650.25,446.11 L650.97,444.16 L651.68,442.16 L652.40,440.11 L653.12,438.03 L653.84,435.91 L654.56,433.76 L655.28,431.58 L655.99,429.38 L656.71,427.16 L657.43,424.93 L658.15,422.70 L658.87,420.47 L659.59,418.24 L660.31,416.02 L661.02,413.82 L661.74,411.64 L662.46,409.49 L663.18,407.37 L663.90,405.29 L664.62,403.24 L665.33,401.24 L666.05,399.29 L666.77,397.39 L667.49,395.54 L668.21,393.74 L668.93,392.01 L669.65,390.33 L670.36,388.71 L671.08,387.15 L671.80,385.66 L672.52,384.22 L673.24,382.84 L673.96,381.53 L674.68,380.27 L675.39,379.07 L676.11,377.93 L676.83,376.85 L677.55,375.81 L678.27,374.84 L678.99,373.91 L679.70,373.03 L680.42,372.20 L681.14,371.41 L681.86,370.67 L682.58,369.97 L683.30,369.31 L684.02,368.69 L684.73,368.11 L685.45,367.56 L686.17,367.04 L686.89,366.55 L687.61,366.10 L688.33,365.67 L689.05,365.27 L689.76,364.89 L690.48,364.54 L691.20,364.21 L691.92,363.90 L692.64,363.61 L693.36,363.33 L694.07,363.08 L694.79,362.84 L695.51,362.62 L696.23,362.41 L696.95,362.22 L697.67,362.03 L698.39,361.86 L699.10,361.71 L699.82,361.56 L700.54,361.42 L701.26,361.29 L701.98,361.17 L702.70,361.06 L703.42,360.95 L704.13,360.85 L704.85,360.76 L705.57,360.68 L706.29,360.60 L707.01,360.52 L707.73,360.45 L708.44,360.39 L709.16,360.33 L709.88,360.27 L710.60,360.22 L711.32,360.17 L712.04,360.13 L712.76,360.08 L713.47,360.04 L714.19,360.01 L714.91,359.97 L715.63,359.94 L716.35,359.91 L717.07,359.88 L717.79,359.86 L718.50,359.83 L719.22,359.81 L719.94,359.79 L720.66,359.77 L721.38,359.75 L722.10,359.73 L722.81,359.72 L723.53,359.70 L724.25,359.69 L724.97,359.68 L725.69,359.66 L726.41,359.65 L727.13,359.64 L727.84,359.63 L728.56,359.62 L729.28,359.62 L730.00,359.61 L730.72,359.60 L731.44,359.59 L732.16,359.59 L732.87,359.58 L733.59,359.58 L734.31,359.57 L735.03,359.57 L735.75,359.56 L736.47,359.56 L737.18,359.55 L737.90,359.55 L738.62,359.55 L739.34,359.54 L740.06,359.54 L740.78,359.54 L741.50,359.53 L742.21,359.53 L742.93,359.53 L743.65,359.53 L744.37,359.53 L745.09,359.52 L745.81,359.52 L746.53,359.52 L747.24,359.52 L747.96,359.52 L748.68,359.52 L749.40,359.52 L750.12,359.51 L750.84,359.51 L751.55,359.51 L752.27,359.51 L752.99,359.51 L753.71,359.51 L754.43,359.51 L755.15,359.51 L755.87,359.51 L756.58,359.51 L757.30,359.51 L758.02,359.51 L758.74,359.51 L759.46,359.51 L760.18,359.51 L760.90,359.51 L761.61,359.50 L762.33,359.50 L763.05,359.50 L763.77,359.50 L764.49,359.50 L765.21,359.50 L765.92,359.50 L766.64,359.50 L767.36,359.50 L768.08,359.50 L768.80,359.50 L769.52,359.50 L770.24,359.50 L770.95,359.50 L771.67,359.50 L772.39,359.50 L773.11,359.50 L773.83,359.50 L774.55,359.50 L775.27,359.50 L775.98,359.50 L776.70,359.50 L777.42,359.50 L778.14,359.50 L778.86,359.50 L779.58,359.50 L780.29,359.50 L781.01,359.50 L781.73,359.50 L782.45,359.50 L783.17,359.50 L783.89,359.50 L784.61,359.50 L785.32,359.50 L786.04,359.50 L786.76,359.50 L787.48,359.50 L788.20,359.50 L788.92,359.50 L789.64,359.50 L790.35,359.50 L791.07,359.50 L791.79,359.50 L792.51,359.50 L793.23,359.50 L793.95,359.50 L794.66,359.50 L795.38,359.50 L796.10,359.50 L796.82,359.50 L797.54,359.50 L798.26,359.50 L798.98,359.50 L799.69,359.50 L800.41,359.50 L801.13,359.50 L801.85,359.50" fill="none" stroke="url(#g2)" stroke-width="2"/>
<line x1="498.5" y1="422.7" x2="816.2" y2="422.7" stroke="#000" stroke-width="2"/>
<line x1="658.15" y1="343.4" x2="658.15" y2="501" stroke="#000" stroke-width="2"/>
<line x1="514.45" y1="422.7" x2="514.45" y2="418.9" stroke="#000" stroke-width="1.5"/>
<rect x="503.17" y="435.50" width="8.0" height="1.6" fill="#000"/>
<text class="tk" transform="translate(512.09,440.10) scale(1.05,1)">10</text>
<line x1="543.19" y1="422.7" x2="543.19" y2="418.9" stroke="#000" stroke-width="1.5"/>
<rect x="535.20" y="435.50" width="8.0" height="1.6" fill="#000"/>
<text class="tk" transform="translate(544.81,440.10) scale(1.05,1)">8</text>
<line x1="571.93" y1="422.7" x2="571.93" y2="418.9" stroke="#000" stroke-width="1.5"/>
<rect x="563.92" y="435.50" width="8.0" height="1.6" fill="#000"/>
<text class="tk" transform="translate(573.52,440.10) scale(1.05,1)">6</text>
<line x1="600.67" y1="422.7" x2="600.67" y2="418.9" stroke="#000" stroke-width="1.5"/>
<rect x="592.43" y="435.50" width="8.0" height="1.6" fill="#000"/>
<text class="tk" transform="translate(602.33,440.10) scale(1.05,1)">4</text>
<line x1="629.41" y1="422.7" x2="629.41" y2="418.9" stroke="#000" stroke-width="1.5"/>
<rect x="621.56" y="435.50" width="8.0" height="1.6" fill="#000"/>
<text class="tk" transform="translate(631.04,440.10) scale(1.05,1)">2</text>
<line x1="686.89" y1="422.7" x2="686.89" y2="418.9" stroke="#000" stroke-width="1.5"/>
<text class="tk" transform="translate(683.37,440.10) scale(1.05,1)">2</text>
<line x1="715.63" y1="422.7" x2="715.63" y2="418.9" stroke="#000" stroke-width="1.5"/>
<text class="tk" transform="translate(712.14,440.10) scale(1.05,1)">4</text>
<line x1="744.37" y1="422.7" x2="744.37" y2="418.9" stroke="#000" stroke-width="1.5"/>
<text class="tk" transform="translate(740.81,440.10) scale(1.05,1)">6</text>
<line x1="773.11" y1="422.7" x2="773.11" y2="418.9" stroke="#000" stroke-width="1.5"/>
<text class="tk" transform="translate(769.59,440.10) scale(1.05,1)">8</text>
<line x1="801.85" y1="422.7" x2="801.85" y2="418.9" stroke="#000" stroke-width="1.5"/>
<text class="tk" transform="translate(794.34,440.10) scale(1.05,1)">10</text>
<line x1="658.15" y1="485.90" x2="661.9499999999999" y2="485.90" stroke="#000" stroke-width="1.5"/>
<text class="tk" transform="translate(636.77,490.70) scale(1.05,1)">1.0</text>
<rect x="628.55" y="486.10" width="8.0" height="1.6" fill="#000"/>
<line x1="658.15" y1="454.30" x2="661.9499999999999" y2="454.30" stroke="#000" stroke-width="1.5"/>
<text class="tk" transform="translate(636.77,459.10) scale(1.05,1)">0.5</text>
<rect x="627.93" y="454.50" width="8.0" height="1.6" fill="#000"/>
<line x1="658.15" y1="391.10" x2="661.9499999999999" y2="391.10" stroke="#000" stroke-width="1.5"/>
<text class="tk" transform="translate(636.77,395.90) scale(1.05,1)">0.5</text>
<line x1="658.15" y1="359.50" x2="661.9499999999999" y2="359.50" stroke="#000" stroke-width="1.5"/>
<text class="tk" transform="translate(636.77,364.30) scale(1.05,1)">1.0</text>
<polygon points="808.75,359.50 796.55,356.00 798.01,359.50 796.55,363.00" fill="#00ff00"/>
<g transform="translate(32.90,378.30) scale(0.989,0.992)" fill="none" stroke="#0000ff" stroke-linecap="round"><path d="M8.2,1.4 C7.9,0.1 6.4,0.0 5.7,1.8 C5.1,3.5 4.7,6.5 3.7,10.2 C3.1,12.3 1.7,12.9 0.7,12.1" stroke-width="1.65"/><path d="M3.5,3.9 L7.4,3.9" stroke-width="1.1" stroke-linecap="butt"/><circle cx="8.0" cy="1.5" r="0.55" fill="#0000ff" stroke-width="0.8"/><circle cx="0.9" cy="12.0" r="0.55" fill="#0000ff" stroke-width="0.8"/></g>
<text transform="translate(41.97,392.40) skewX(0) scale(0.935,1.000)" font-size="10.6" fill="#0000ff" stroke="#0000ff" stroke-width="0.12" style="font-weight:bold;font-style:normal">0</text>
<text transform="translate(48.60,388.10) skewX(0) scale(0.997,1.000)" font-size="12.5" fill="#0000ff" stroke="#0000ff" stroke-width="0.12" style="font-weight:bold;font-style:normal">(</text>
<text transform="translate(53.39,388.10) skewX(0) scale(1.146,1.000)" font-size="14.6" fill="#0000ff" stroke="#0000ff" stroke-width="0.12" style="font-weight:bold;font-style:italic">ϕ</text>
<text transform="translate(63.21,388.10) skewX(0) scale(0.841,1.000)" font-size="12.5" fill="#0000ff" stroke="#0000ff" stroke-width="0.12" style="font-weight:bold;font-style:normal">)</text>
<rect x="67.75" y="383.60" width="7.20" height="1.5" fill="#0000ff"/>
<text transform="translate(76.79,388.10) skewX(0) scale(1.159,1.000)" font-size="14.6" fill="#0000ff" stroke="#0000ff" stroke-width="0.12" style="font-weight:bold;font-style:italic">ϕ</text>
<rect x="93.55" y="382.70" width="7.70" height="1.5" fill="#0000ff"/><rect x="93.55" y="385.70" width="7.70" height="1.5" fill="#0000ff"/>
<text transform="translate(102.37,388.10) skewX(0) scale(1.050,1.000)" font-size="14.6" fill="#0000ff" stroke="#0000ff" stroke-width="0.12" style="font-weight:bold;font-style:normal">0</text>
<text transform="translate(245.13,375.00) skewX(0) scale(1.023,1.000)" font-size="13.6" fill="#00ff00" stroke="#00ff00" stroke-width="0.35" style="font-weight:bold;font-style:italic">ϕ</text>
<text transform="translate(254.01,375.30) skewX(0) scale(0.810,1.000)" font-size="12.5" fill="#00ff00" stroke="#00ff00" stroke-width="0.15" style="font-weight:normal;font-style:normal">(</text>
<text transform="translate(258.43,375.30) skewX(0) scale(1.114,1.000)" font-size="14.6" fill="#00ff00" stroke="#00ff00" stroke-width="0.2" style="font-weight:normal;font-style:italic">z</text>
<text transform="translate(265.44,375.30) skewX(0) scale(1.028,1.000)" font-size="12.5" fill="#00ff00" stroke="#00ff00" stroke-width="0.15" style="font-weight:normal;font-style:normal">)</text>
<text transform="translate(540.72,387.90) skewX(0) scale(0.927,1.000)" font-size="14.6" fill="#0000ff" stroke="#0000ff" stroke-width="0.12" style="font-weight:bold;font-style:italic">x</text>
<rect x="549.05" y="382.50" width="8.80" height="1.5" fill="#0000ff"/><rect x="549.05" y="385.50" width="8.80" height="1.5" fill="#0000ff"/>
<rect x="559.75" y="383.40" width="7.50" height="1.5" fill="#0000ff"/>
<text transform="translate(568.01,387.90) skewX(0) scale(1.042,1.000)" font-size="14.6" fill="#0000ff" stroke="#0000ff" stroke-width="0.12" style="font-weight:bold;font-style:italic">U</text>
<text transform="translate(584.65,387.90) skewX(0) scale(0.903,1.000)" font-size="12.5" fill="#0000ff" stroke="#0000ff" stroke-width="0.12" style="font-weight:bold;font-style:normal">(</text>
<text transform="translate(589.23,387.90) skewX(0) scale(0.983,1.000)" font-size="14.6" fill="#0000ff" stroke="#0000ff" stroke-width="0.12" style="font-weight:bold;font-style:italic">x</text>
<text transform="translate(597.31,387.90) skewX(0) scale(1.090,1.000)" font-size="12.5" fill="#0000ff" stroke="#0000ff" stroke-width="0.12" style="font-weight:bold;font-style:normal">)</text>
<polygon points="43.95,378.40 45.85,378.40 43.35,381.80 42.45,381.80" fill="#0000ff"/>
<polygon points="87.75,378.10 89.65,378.10 87.05,381.60 86.15,381.60" fill="#0000ff"/>
<polygon points="90.35,378.10 92.25,378.10 89.55,381.70 88.65,381.70" fill="#0000ff"/>
<polygon points="581.35,377.90 583.25,377.90 581.05,381.80 580.15,381.80" fill="#0000ff"/>
<circle cx="542.7" cy="378.6" r="0.95" fill="#0000ff"/><circle cx="546.1" cy="378.6" r="0.95" fill="#0000ff"/>
<text transform="translate(747.72,374.30) skewX(0) scale(0.927,1.000)" font-size="14.6" fill="#00ff00" stroke="#00ff00" stroke-width="0.12" style="font-weight:bold;font-style:italic">x</text>
<text transform="translate(755.58,374.30) skewX(0) scale(0.800,1.000)" font-size="12.5" fill="#00ff00" stroke="#00ff00" stroke-width="0.3" style="font-weight:normal;font-style:normal">(</text>
<text transform="translate(759.82,374.30) skewX(0) scale(0.980,1.000)" font-size="14.6" fill="#00ff00" stroke="#00ff00" stroke-width="0.12" style="font-weight:bold;font-style:italic">t</text>
<text transform="translate(765.21,374.30) skewX(0) scale(1.090,1.000)" font-size="12.5" fill="#00ff00" stroke="#00ff00" stroke-width="0.3" style="font-weight:normal;font-style:normal">)</text>
<polygon points="362.9,147.60 430.8,147.60 430.8,138.30 467.6,157.60 430.8,176.90 430.8,167.60 362.9,167.60" fill="#ffff00" stroke="#000" stroke-width="1.2" stroke-linejoin="miter"/>
<text transform="translate(368.61,160.80) skewX(0) scale(0.949,1.000)" font-size="13.5" fill="#000" stroke="#000" stroke-width="0.12" style="font-weight:bold;font-style:italic">z</text>
<path d="M379.50,157.20 L390.80,157.20" stroke="#000" stroke-width="1.1" fill="none"/>
<path d="M387.40,154.20 Q389.00,156.60 391.60,157.20 Q389.00,157.80 387.40,160.20" stroke="#000" stroke-width="1.1" fill="none" stroke-linejoin="round" stroke-linecap="round"/>
<text transform="translate(397.36,160.80) skewX(0) scale(1.196,1.000)" font-size="13.5" fill="#000" stroke="#000" stroke-width="0.12" style="font-weight:bold;font-style:italic">t</text>
<text transform="translate(403.71,160.80) skewX(0) scale(0.800,1.000)" font-size="13.5" fill="#000" stroke="#000" stroke-width="0.12" style="font-weight:bold;font-style:italic">,</text>
<text transform="translate(413.04,160.50) skewX(0) scale(1.017,1.000)" font-size="13.5" fill="#000" stroke="#000" stroke-width="0.12" style="font-weight:bold;font-style:italic">ϕ</text>
<path d="M426.50,157.20 L437.80,157.20" stroke="#000" stroke-width="1.1" fill="none"/>
<path d="M434.40,154.20 Q436.00,156.60 438.60,157.20 Q436.00,157.80 434.40,160.20" stroke="#000" stroke-width="1.1" fill="none" stroke-linejoin="round" stroke-linecap="round"/>
<text transform="translate(444.52,160.80) skewX(0) scale(1.048,1.000)" font-size="13.5" fill="#000" stroke="#000" stroke-width="0.12" style="font-weight:bold;font-style:italic">x</text>
<polygon points="362.9,413.00 430.8,413.00 430.8,403.70 467.6,423.00 430.8,442.30 430.8,433.00 362.9,433.00" fill="#ffff00" stroke="#000" stroke-width="1.2" stroke-linejoin="miter"/>
<text transform="translate(368.61,426.20) skewX(0) scale(0.949,1.000)" font-size="13.5" fill="#000" stroke="#000" stroke-width="0.12" style="font-weight:bold;font-style:italic">z</text>
<path d="M379.50,422.60 L390.80,422.60" stroke="#000" stroke-width="1.1" fill="none"/>
<path d="M387.40,419.60 Q389.00,422.00 391.60,422.60 Q389.00,423.20 387.40,425.60" stroke="#000" stroke-width="1.1" fill="none" stroke-linejoin="round" stroke-linecap="round"/>
<text transform="translate(397.36,426.20) skewX(0) scale(1.196,1.000)" font-size="13.5" fill="#000" stroke="#000" stroke-width="0.12" style="font-weight:bold;font-style:italic">t</text>
<text transform="translate(403.71,426.20) skewX(0) scale(0.800,1.000)" font-size="13.5" fill="#000" stroke="#000" stroke-width="0.12" style="font-weight:bold;font-style:italic">,</text>
<text transform="translate(413.04,425.90) skewX(0) scale(1.017,1.000)" font-size="13.5" fill="#000" stroke="#000" stroke-width="0.12" style="font-weight:bold;font-style:italic">ϕ</text>
<path d="M426.50,422.60 L437.80,422.60" stroke="#000" stroke-width="1.1" fill="none"/>
<path d="M434.40,419.60 Q436.00,422.00 438.60,422.60 Q436.00,423.20 434.40,425.60" stroke="#000" stroke-width="1.1" fill="none" stroke-linejoin="round" stroke-linecap="round"/>
<text transform="translate(444.52,426.20) skewX(0) scale(1.048,1.000)" font-size="13.5" fill="#000" stroke="#000" stroke-width="0.12" style="font-weight:bold;font-style:italic">x</text>
</g></svg></body></html>
